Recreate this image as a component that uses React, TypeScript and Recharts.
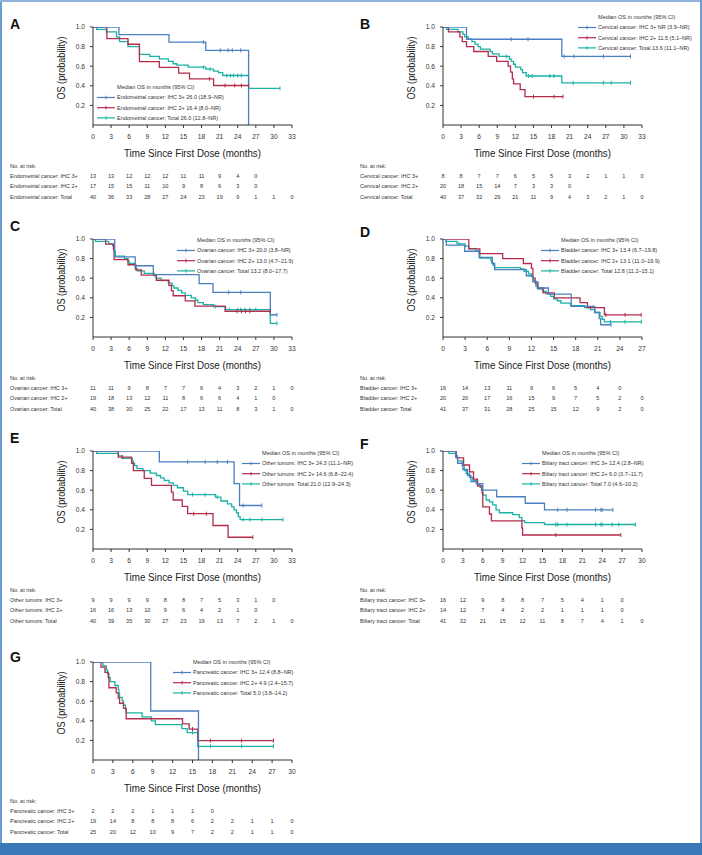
import React from 'react';
import { LineChart, Line, XAxis, YAxis } from 'recharts';

type Pt = [number, number];

const FONT = '"Liberation Sans", Arial, sans-serif';
const NARROW = '"Liberation Sans Narrow", "Liberation Sans", Arial, sans-serif';

const BLUE = '#4a7fc1';
const RED = '#b32d4c';
const TEAL = '#19b2a4';

// x-axis tick labels
const ticks33 = [0, 3, 6, 9, 12, 15, 18, 21, 24, 27, 30, 33];
const ticks30 = [0, 3, 6, 9, 12, 15, 18, 21, 24, 27, 30];
const ticks27 = [0, 3, 6, 9, 12, 15, 18, 21, 24, 27];
const yTicks = [0.2, 0.4, 0.6, 0.8, 1.0];

// A - endometrial
const endoIhc3: Pt[] = [[0, 1], [4.3, 0.923], [12.6, 0.846], [18.7, 0.762], [25.8, 0]];
const endoIhc3Cens = [18.3, 21.1, 22.4, 23.1, 24.5];
const endoIhc2: Pt[] = [[0, 1], [2.3, 0.882], [5.8, 0.824], [7.7, 0.647], [11, 0.588], [14.2, 0.529], [16, 0.471], [20, 0.403]];
const endoIhc2Cens = [19.3, 21.9, 23.5, 24.6, 25.8];
const endoTotal: Pt[] = [[0, 1], [0.6, 0.975], [2.2, 0.95], [3.9, 0.9], [4.4, 0.85], [5.8, 0.8], [7.7, 0.72], [9.4, 0.7], [11, 0.675], [12.5, 0.65], [13.3, 0.625], [13.9, 0.61], [15.8, 0.59], [18.7, 0.57], [20, 0.55], [20.8, 0.535], [21.5, 0.505], [25.8, 0.373]];
const endoTotalCens = [18.3, 19.4, 22.2, 22.8, 23.3, 24, 24.6, 31];
const endoRisk3 = [13, 13, 12, 12, 12, 11, 11, 9, 4, 0];
const endoRisk2 = [17, 15, 15, 11, 10, 9, 8, 6, 3, 0];
const endoRiskT = [40, 36, 33, 28, 27, 24, 23, 19, 9, 1, 1, 0];

// B - cervical
const cervIhc3: Pt[] = [[0, 1], [3.9, 0.875], [19.7, 0.7]];
const cervIhc3Cens = [11.3, 14.1, 20.1, 21.7, 26.6, 31.1];
const cervIhc2: Pt[] = [[0, 1], [0.9, 0.95], [2.8, 0.9], [3.2, 0.85], [3.9, 0.8], [5.1, 0.75], [7.5, 0.7], [8.9, 0.65], [10.8, 0.6], [11.2, 0.54], [11.5, 0.47], [11.7, 0.42], [12.8, 0.36], [13.6, 0.29]];
const cervIhc2Cens = [15, 18.4, 19.9];
const cervTotal: Pt[] = [[0, 1], [0.6, 0.975], [2.5, 0.95], [3.3, 0.925], [3.6, 0.9], [4.2, 0.875], [4.8, 0.85], [5.3, 0.825], [5.8, 0.8], [6.2, 0.775], [7.8, 0.75], [8.2, 0.725], [9.3, 0.7], [11, 0.675], [11.3, 0.65], [11.7, 0.62], [12, 0.59], [12.9, 0.565], [13.2, 0.535], [13.8, 0.5], [19.7, 0.43]];
const cervTotalCens = [10.5, 14.2, 14.8, 17.7, 18.4, 21.6, 26.6, 27.9, 31.1];
const cervRisk3 = [8, 8, 7, 7, 6, 5, 5, 3, 2, 1, 1, 0];
const cervRisk2 = [20, 18, 15, 14, 7, 3, 3, 0];
const cervRiskT = [40, 37, 32, 29, 21, 11, 9, 4, 3, 2, 1, 0];

// C - ovarian
const ovIhc3: Pt[] = [[0, 1], [3.6, 0.818], [7.0, 0.727], [10.0, 0.636], [17.6, 0.545], [19.9, 0.455], [29.4, 0.227]];
const ovIhc3Cens = [22.5, 24.5, 30.5];
const ovIhc2: Pt[] = [[0, 1], [2.1, 0.947], [3.4, 0.895], [3.5, 0.789], [5.8, 0.737], [7.1, 0.684], [8.0, 0.632], [10.5, 0.579], [12.6, 0.526], [13.0, 0.474], [13.3, 0.421], [15.3, 0.368], [16.9, 0.316], [21.9, 0.263]];
const ovIhc2Cens = [23.9, 24.6, 25.3, 26.0, 29.4];
const ovTotal: Pt[] = [[0, 1], [0.4, 0.975], [2.6, 0.95], [3.3, 0.925], [3.5, 0.875], [3.7, 0.825], [5.2, 0.8], [5.8, 0.775], [6.0, 0.75], [7.0, 0.7], [7.3, 0.675], [8.5, 0.65], [10.2, 0.625], [10.5, 0.6], [11.3, 0.575], [12.5, 0.55], [13.1, 0.525], [13.4, 0.5], [14.1, 0.475], [14.7, 0.45], [15.3, 0.425], [16.3, 0.4], [17.0, 0.375], [17.4, 0.35], [18.3, 0.33], [20.0, 0.31], [22.0, 0.28], [29.4, 0.14]];
const ovTotalCens = [20.3, 22.6, 24, 24.5, 25.2, 26, 27, 30.5];
const ovRisk3 = [11, 11, 9, 8, 7, 7, 6, 4, 3, 2, 1, 0];
const ovRisk2 = [19, 18, 13, 12, 11, 8, 6, 6, 4, 1, 0];
const ovRiskT = [40, 38, 30, 25, 22, 17, 13, 11, 8, 3, 1, 0];

// D - bladder
const bladIhc3: Pt[] = [[0, 1], [0.45, 0.9375], [2.95, 0.875], [4.9, 0.8125], [6.7, 0.75], [7.0, 0.6875], [11.3, 0.625], [12.2, 0.5625], [12.9, 0.5], [14.3, 0.4375], [17.4, 0.3125], [20.6, 0.25], [21.2, 0.1875], [21.4, 0.125]];
const bladIhc3Cens = [22.8];
const bladIhc2: Pt[] = [[0, 1], [3.5, 0.9], [5.0, 0.85], [8.1, 0.8], [10.9, 0.75], [12.0, 0.7], [12.2, 0.6], [12.5, 0.55], [12.8, 0.5], [13.6, 0.45], [15.1, 0.4], [18.6, 0.35], [19.6, 0.3], [21.9, 0.226]];
const bladIhc2Cens = [22.1, 24.7, 26.9];
const bladTotal: Pt[] = [[0, 1], [0.4, 0.976], [1.9, 0.95], [3.0, 0.927], [3.5, 0.902], [4.5, 0.878], [4.9, 0.854], [5.0, 0.805], [6.5, 0.78], [6.6, 0.756], [6.8, 0.732], [7.0, 0.707], [10.5, 0.695], [11.0, 0.67], [11.6, 0.645], [12.0, 0.62], [12.2, 0.57], [12.6, 0.52], [12.9, 0.49], [13.5, 0.465], [14.0, 0.44], [14.6, 0.415], [15.0, 0.39], [15.5, 0.37], [16.0, 0.345], [17.3, 0.32], [19.2, 0.3], [20.0, 0.28], [20.6, 0.25], [21.3, 0.21], [21.6, 0.18], [21.9, 0.155]];
const bladTotalCens = [2.2, 22.7, 24.7, 26.9];
const bladRisk3 = [16, 14, 13, 11, 9, 6, 5, 4, 0];
const bladRisk2 = [20, 20, 17, 16, 15, 9, 7, 5, 2, 0];
const bladRiskT = [41, 37, 31, 28, 25, 15, 12, 9, 2, 0];

// E - other tumors
const othIhc3: Pt[] = [[0, 1], [11.0, 0.889], [23.4, 0.667], [24.3, 0.444]];
const othIhc3Cens = [15.7, 18.6, 20.6, 22.3, 24.9, 28.0];
const othIhc2: Pt[] = [[0, 1], [4.2, 0.9375], [6.4, 0.875], [6.7, 0.8], [8.5, 0.72], [9.7, 0.65], [13.0, 0.58], [13.3, 0.5], [14.8, 0.435], [15.7, 0.36], [19.9, 0.24], [22.4, 0.12]];
const othIhc2Cens = [4.9, 16.7, 18.8, 26.5];
const othTotal: Pt[] = [[0, 1], [0.6, 0.975], [4.2, 0.95], [4.8, 0.925], [6.5, 0.9], [6.7, 0.875], [6.9, 0.85], [7.3, 0.82], [8.3, 0.8], [9.5, 0.775], [10.5, 0.75], [11.2, 0.725], [11.8, 0.7], [12.6, 0.675], [13.3, 0.65], [14.0, 0.625], [15.0, 0.59], [15.7, 0.555], [20.3, 0.53], [21.2, 0.49], [22.3, 0.46], [23.0, 0.43], [23.4, 0.4], [23.8, 0.37], [24.1, 0.33], [24.4, 0.3]];
const othTotalCens = [16.5, 18.6, 20.6, 24.9, 26.0, 28.0, 31.5];
const othRisk3 = [9, 9, 9, 9, 8, 8, 7, 5, 3, 1, 0];
const othRisk2 = [16, 16, 13, 10, 9, 6, 4, 2, 1, 0];
const othRiskT = [40, 39, 35, 30, 27, 23, 19, 13, 7, 2, 1, 0];

// F - biliary tract
const bilIhc3: Pt[] = [[0, 1], [1.9, 0.9375], [2.2, 0.875], [3.0, 0.8125], [3.7, 0.75], [4.2, 0.6875], [5.0, 0.667], [6.0, 0.6], [8.1, 0.533], [12.4, 0.467], [15.3, 0.4]];
const bilIhc3Cens = [17.3, 18.7, 23.0, 23.8, 24.0, 25.6];
const bilIhc2: Pt[] = [[0, 1], [2.0, 0.929], [3.1, 0.857], [4.0, 0.786], [4.6, 0.714], [5.2, 0.643], [5.9, 0.571], [6.0, 0.429], [7.0, 0.357], [7.3, 0.286], [11.9, 0.214], [12.0, 0.143]];
const bilIhc2Cens = [17.0, 26.8];
const bilTotal: Pt[] = [[0, 1], [0.9, 0.976], [1.9, 0.95], [2.2, 0.9], [2.9, 0.85], [3.2, 0.8], [3.5, 0.77], [4.0, 0.73], [4.5, 0.7], [5.2, 0.66], [5.6, 0.63], [5.8, 0.6], [6.0, 0.55], [6.5, 0.5], [7.0, 0.48], [7.5, 0.45], [8.0, 0.4], [8.5, 0.37], [10.5, 0.35], [11.5, 0.32], [11.9, 0.29], [12.3, 0.27], [15.3, 0.25]];
const bilTotalCens = [17.0, 17.3, 18.7, 23.0, 23.8, 24.0, 25.5, 26.5, 29.0];
const bilRisk3 = [16, 12, 9, 8, 8, 7, 5, 4, 1, 0];
const bilRisk2 = [14, 12, 7, 4, 2, 2, 1, 1, 1, 0];
const bilRiskT = [41, 32, 21, 15, 12, 11, 8, 7, 4, 1, 0];

// G - pancreatic
const panIhc3: Pt[] = [[0, 1], [8.7, 0.5], [15.9, 0]];
const panIhc3Cens: number[] = [];
const panIhc2: Pt[] = [[0, 1], [1.2, 0.947], [1.8, 0.895], [2.3, 0.842], [2.4, 0.737], [3.5, 0.684], [3.8, 0.632], [4.0, 0.579], [4.6, 0.526], [5.0, 0.421], [13.5, 0.368], [14.5, 0.316], [15.8, 0.197]];
const panIhc2Cens = [15.0, 17.7, 22.4, 27.2];
const panTotal: Pt[] = [[0, 1], [1.5, 0.96], [2.0, 0.92], [2.2, 0.88], [2.4, 0.84], [2.6, 0.8], [3.3, 0.76], [3.8, 0.72], [3.9, 0.68], [4.0, 0.64], [4.4, 0.6], [4.6, 0.56], [4.9, 0.52], [5.0, 0.48], [7.4, 0.44], [8.8, 0.4], [9.4, 0.36], [13.4, 0.32], [14.2, 0.28], [15.8, 0.14]];
const panTotalCens = [15.0, 17.7, 22.4, 27.2];
const panRisk3 = [2, 2, 2, 1, 1, 1, 0];
const panRisk2 = [19, 14, 8, 8, 8, 6, 2, 2, 1, 1, 0];
const panRiskT = [25, 20, 12, 10, 9, 7, 2, 2, 1, 1, 0];

interface Series {
  name: string;
  legend: string;
  color: string;
  steps: Pt[];
  cens: number[];
  risk: number[];
}

interface PanelDef {
  letter: string;
  left: number;
  top: number;
  letterY: number;
  xMax: number;
  ticks: number[];
  legendX: number;
  legendY: number;
  series: Series[];
}

const mk = (
  cancer: string,
  med: [string, string, string],
  d3: [Pt[], number[], number[]],
  d2: [Pt[], number[], number[]],
  dt: [Pt[], number[], number[]]
): Series[] => [
  { name: `${cancer}: IHC 3+`, legend: `${cancer}: IHC 3+ ${med[0]}`, color: BLUE, steps: d3[0], cens: d3[1], risk: d3[2] },
  { name: `${cancer}: IHC 2+`, legend: `${cancer}: IHC 2+ ${med[1]}`, color: RED, steps: d2[0], cens: d2[1], risk: d2[2] },
  { name: `${cancer}: Total`, legend: `${cancer}: Total ${med[2]}`, color: TEAL, steps: dt[0], cens: dt[1], risk: dt[2] },
];

const panels: PanelDef[] = [
  {
    letter: 'A', left: 0, top: 0, letterY: 24, xMax: 33, ticks: ticks33, legendX: 97, legendY: 87,
    series: mk('Endometrial cancer', ['26.0 (18.9–NR)', '16.4 (8.0–NR)', '26.0 (12.8–NR)'],
      [endoIhc3, endoIhc3Cens, endoRisk3], [endoIhc2, endoIhc2Cens, endoRisk2], [endoTotal, endoTotalCens, endoRiskT]),
  },
  {
    letter: 'B', left: 350, top: 0, letterY: 24, xMax: 33, ticks: ticks33, legendX: 228, legendY: 17,
    series: mk('Cervical cancer', ['NR (3.9–NR)', '11.5 (5.1–NR)', '13.6 (11.1–NR)'],
      [cervIhc3, cervIhc3Cens, cervRisk3], [cervIhc2, cervIhc2Cens, cervRisk2], [cervTotal, cervTotalCens, cervRiskT]),
  },
  {
    letter: 'C', left: 0, top: 212, letterY: 14, xMax: 33, ticks: ticks33, legendX: 177, legendY: 28,
    series: mk('Ovarian cancer', ['20.0 (3.8–NR)', '13.0 (4.7–21.9)', '13.2 (8.0–17.7)'],
      [ovIhc3, ovIhc3Cens, ovRisk3], [ovIhc2, ovIhc2Cens, ovRisk2], [ovTotal, ovTotalCens, ovRiskT]),
  },
  {
    letter: 'D', left: 350, top: 212, letterY: 20, xMax: 27, ticks: ticks27, legendX: 191, legendY: 28,
    series: mk('Bladder cancer', ['13.4 (6.7–19.8)', '13.1 (11.0–19.9)', '12.8 (11.2–15.1)'],
      [bladIhc3, bladIhc3Cens, bladRisk3], [bladIhc2, bladIhc2Cens, bladRisk2], [bladTotal, bladTotalCens, bladRiskT]),
  },
  {
    letter: 'E', left: 0, top: 424, letterY: 14, xMax: 33, ticks: ticks33, legendX: 242, legendY: 29,
    series: mk('Other tumors', ['24.3 (11.1–NR)', '14.6 (6.8–22.4)', '21.0 (12.9–24.3)'],
      [othIhc3, othIhc3Cens, othRisk3], [othIhc2, othIhc2Cens, othRisk2], [othTotal, othTotalCens, othRiskT]),
  },
  {
    letter: 'F', left: 350, top: 424, letterY: 20, xMax: 30, ticks: ticks30, legendX: 172, legendY: 29,
    series: mk('Biliary tract cancer', ['12.4 (2.8–NR)', '6.0 (3.7–11.7)', '7.0 (4.6–10.2)'],
      [bilIhc3, bilIhc3Cens, bilRisk3], [bilIhc2, bilIhc2Cens, bilRisk2], [bilTotal, bilTotalCens, bilRiskT]),
  },
  {
    letter: 'G', left: 0, top: 635, letterY: 22, xMax: 30, ticks: ticks30, legendX: 173, legendY: 27,
    series: mk('Pancreatic cancer', ['12.4 (8.8–NR)', '4.9 (2.4–15.7)', '5.0 (3.8–14.2)'],
      [panIhc3, panIhc3Cens, panRisk3], [panIhc2, panIhc2Cens, panRisk2], [panTotal, panTotalCens, panRiskT]),
  },
];

// merge step points and censor marks into one series
const build = (steps: Pt[], cens: number[]) => {
  const pts = steps.map(([t, s]) => ({ t, s, c: false }));
  cens.forEach((t) => {
    let s = 1;
    steps.forEach(([st, sv]) => {
      if (st <= t) s = sv;
    });
    pts.push({ t, s, c: true });
  });
  return pts.sort((a, b) => a.t - b.t);
};

const CensorDot = (color: string) => (props: any) => {
  const { cx, cy, payload, index } = props;
  if (!payload || !payload.c || cx == null || cy == null) return <g key={`d${index}`} />;
  return <line key={`d${index}`} x1={cx} x2={cx} y1={cy - 2} y2={cy + 2} stroke={color} strokeWidth={1} />;
};

const riskTick = (values: number[], ticks: number[], name: string, header: boolean) => (p: any) => {
  const i = ticks.indexOf(p.payload.value);
  const v = values[i];
  return (
    <g>
      {i === 0 && header && (
        <text x={10} y={p.y - 10} dy="0.35em" fontSize={5.5} fill="#333" fontFamily={FONT}>No. at risk:</text>
      )}
      {i === 0 && (
        <text x={10} y={p.y} dy="0.35em" fontSize={5.5} fill="#333" fontFamily={FONT}>{name}</text>
      )}
      {v !== undefined && (
        <text x={p.x} y={p.y} dy="0.35em" textAnchor="middle" fontSize={5.6} fill="#333" fontFamily={FONT}>{v}</text>
      )}
    </g>
  );
};

const XTitle = (props: any) => {
  const vb = props.viewBox || { x: 93, y: 125, width: 199, height: 33 };
  return (
    <text x={vb.x + vb.width / 2} y={vb.y + vb.height - 1.5} textAnchor="middle" fontSize={10.7} fill="#222"
      fontFamily={NARROW} textLength={137} lengthAdjust="spacingAndGlyphs">
      Time Since First Dose (months)
    </text>
  );
};

const YTitle = (props: any) => {
  const vb = props.viewBox || { x: 0, y: 27, width: 93, height: 98 };
  const x = 64.5;
  const y = vb.y + vb.height / 2 - 8;
  return (
    <text x={x} y={y} transform={`rotate(-90, ${x}, ${y})`} textAnchor="middle" fontSize={10.7} fill="#222"
      fontFamily={NARROW} textLength={63} lengthAdjust="spacingAndGlyphs">
      OS (probability)
    </text>
  );
};

const Panel = ({ p }: { p: PanelDef }) => {
  const drawOrder = [p.series[2], p.series[1], p.series[0]];
  // at-risk table rows, one entry per x tick
  const riskRows = p.ticks.map((t, i) => ({ t, r0: p.series[0].risk[i], r1: p.series[1].risk[i], r2: p.series[2].risk[i] }));
  return (
    <div style={{ position: 'absolute', left: p.left, top: p.top, width: 350, height: 212 }}>
      <div style={{ position: 'absolute', left: 10, top: p.letterY - 9, fontFamily: FONT, fontWeight: 'bold', fontSize: 14, lineHeight: '18px', color: '#111' }}>
        {p.letter}
      </div>
      <LineChart width={350} height={212} data={riskRows} margin={{ top: 27, right: 58, left: 0, bottom: 10 }} style={{ position: 'absolute', left: 0, top: 0 }}>
        <XAxis xAxisId="main" type="number" dataKey="t" domain={[0, p.xMax]} ticks={p.ticks} interval={0} allowDataOverflow
          height={33} tickSize={3} tickMargin={6.5} stroke="#333" tick={{ fontSize: 6.6, fill: '#333', fontFamily: FONT }}
          label={{ content: XTitle }} />
        {p.series.map((s, k) => (
          <XAxis key={s.name} xAxisId={`r${k}`} dataKey="t" type="number" domain={[0, p.xMax]} ticks={p.ticks} interval={0} allowDataOverflow
            height={k === 0 ? 23 : 10.5} axisLine={false} tickLine={false} tickSize={0} tickMargin={k === 0 ? 18 : 5.5}
            tick={riskTick(s.risk, p.ticks, s.name, k === 0)} />
        ))}
        <YAxis yAxisId="y" type="number" domain={[0, 1]} allowDataOverflow ticks={yTicks} interval={0} width={93} tickSize={3} tickMargin={5}
          stroke="#333" tick={{ fontSize: 6.6, fill: '#333', fontFamily: FONT }} tickFormatter={(v: number) => v.toFixed(1)}
          label={{ content: YTitle }} />
        {p.series.map((s, k) => (
          <Line key={`risk${k}`} xAxisId={`r${k}`} yAxisId="y" dataKey={`r${k}`} stroke="none" dot={false}
            activeDot={false} legendType="none" isAnimationActive={false} />
        ))}
        {drawOrder.map((s) => (
          <Line key={s.name} xAxisId="main" yAxisId="y" data={build(s.steps, s.cens)} dataKey="s" type="stepAfter"
            stroke={s.color} strokeWidth={1.3} dot={CensorDot(s.color)} activeDot={false} isAnimationActive={false} />
        ))}
      </LineChart>
      <svg width={420} height={212} style={{ position: 'absolute', left: 0, top: 0, overflow: 'visible', pointerEvents: 'none' }}>
        <text x={p.legendX + 20} y={p.legendY} dy="0.35em" fontSize={5.6} fill="#333" fontFamily={FONT}>
          Median OS in months (95% CI)
        </text>
        {p.series.map((s, k) => {
          const y = p.legendY + 10.5 + k * 10.2;
          return (
            <g key={s.name}>
              <line x1={p.legendX} x2={p.legendX + 18} y1={y} y2={y} stroke={s.color} strokeWidth={1.2} />
              <line x1={p.legendX + 9} x2={p.legendX + 9} y1={y - 1.8} y2={y + 1.8} stroke={s.color} strokeWidth={1} />
              <text x={p.legendX + 20} y={y} dy="0.35em" fontSize={5.5} fill="#333" fontFamily={FONT}>{s.legend}</text>
            </g>
          );
        })}
      </svg>
    </div>
  );
};

export default function App() {
  return (
    <div style={{ position: 'absolute', left: 0, top: 0, width: 702, height: 855, background: '#fff', overflow: 'hidden' }}>
      <div style={{ position: 'absolute', left: 0, top: 0, width: 2, height: 855, background: '#6b9dd0' }} />
      <div style={{ position: 'absolute', left: 0, top: 0, width: 702, height: 1.5, background: '#8db3dc' }} />
      <div style={{ position: 'absolute', left: 700, top: 0, width: 2, height: 855, background: '#6b9dd0' }} />
      <div style={{ position: 'absolute', left: 0, top: 843, width: 702, height: 12, background: '#3a77b6' }} />
      {panels.map((p) => (
        <Panel key={p.letter} p={p} />
      ))}
    </div>
  );
}
